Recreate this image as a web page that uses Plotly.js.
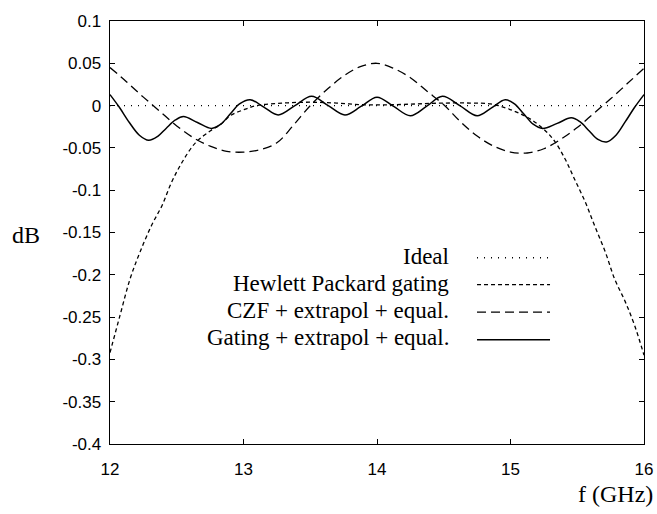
<!DOCTYPE html>
<html>
<head>
<meta charset="utf-8">
<script src="https://cdn.plot.ly/plotly-3.0.1.min.js"></script>
<style>html,body{margin:0;padding:0;background:#fff;}</style>
</head>
<body>
<div id="chart" style="width:657px;height:514px;"></div>
<script>
// ---- data ----
const seriesNames = ["Ideal", "Hewlett Packard gating", "CZF + extrapol + equal.", "Gating + extrapol + equal."];

const fIdeal = [12, 16];
const dbIdeal = [0, 0];

const fHP = [12.0, 12.075, 12.15, 12.225, 12.31, 12.39, 12.46, 12.54, 12.64, 12.75, 12.83, 12.9, 13.0, 13.1, 13.3, 13.5, 13.7, 13.9, 14.1, 14.3, 14.5, 14.7, 14.85, 14.95, 15.05, 15.15, 15.25, 15.33, 15.41, 15.48, 15.56, 15.63, 15.71, 15.78, 15.86, 15.93, 16.0];
const dbHP = [-0.292, -0.248, -0.205, -0.173, -0.142, -0.118, -0.091, -0.067, -0.044, -0.030, -0.022, -0.012, -0.005, 0.000, 0.003, 0.004, 0.003, 0.001, 0.001, 0.002, 0.003, 0.003, 0.002, -0.002, -0.008, -0.016, -0.028, -0.042, -0.0635, -0.087, -0.114, -0.142, -0.173, -0.205, -0.232, -0.260, -0.295];

const fCZF = [12.0, 12.125, 12.25, 12.375, 12.5, 12.625, 12.75, 12.875, 13.0, 13.125, 13.25, 13.375, 13.5, 13.625, 13.75, 13.875, 14.0, 14.125, 14.25, 14.375, 14.5, 14.625, 14.75, 14.875, 15.0, 15.125, 15.25, 15.375, 15.5, 15.625, 15.75, 15.875, 16.0];
const dbCZF = [0.045, 0.028, 0.010, -0.007, -0.024, -0.038, -0.048, -0.054, -0.055, -0.052, -0.044, -0.023, 0.000, 0.019, 0.035, 0.046, 0.050, 0.044, 0.033, 0.017, 0.001, -0.019, -0.036, -0.048, -0.055, -0.056, -0.051, -0.040, -0.026, -0.009, 0.008, 0.026, 0.044];

const fGate = [12.0, 12.07, 12.145, 12.22, 12.29, 12.36, 12.42, 12.49, 12.55, 12.655, 12.76, 12.83, 12.9, 12.97, 13.05, 13.155, 13.26, 13.385, 13.51, 13.635, 13.76, 13.88, 14.0, 14.125, 14.25, 14.37, 14.49, 14.62, 14.75, 14.855, 14.96, 15.03, 15.1, 15.17, 15.24, 15.35, 15.455, 15.52, 15.59, 15.655, 15.72, 15.79, 15.86, 15.93, 16.0];
const dbGate = [0.013, -0.002, -0.020, -0.035, -0.041, -0.036, -0.027, -0.017, -0.013, -0.020, -0.027, -0.022, -0.010, 0.002, 0.007, -0.002, -0.011, 0.000, 0.011, 0.000, -0.011, -0.001, 0.010, -0.001, -0.012, -0.001, 0.011, 0.000, -0.012, -0.003, 0.007, 0.002, -0.010, -0.022, -0.027, -0.021, -0.0145, -0.019, -0.030, -0.040, -0.043, -0.035, -0.019, -0.002, 0.013];

const xTicks = [12, 13, 14, 15, 16];
const xTickText = ["12", "13", "14", "15", "16"];
const yTicks = [0.1, 0.05, 0, -0.05, -0.1, -0.15, -0.2, -0.25, -0.3, -0.35, -0.4];
const yTickText = ["0.1", "0.05", "0", "-0.05", "-0.1", "-0.15", "-0.2", "-0.25", "-0.3", "-0.35", "-0.4"];

const xLabel = "f (GHz)";
const yLabel = "dB";

// ---- styles ----
const dashes = ["1px,6px", "4px,3px", "9px,5px", "solid"];
const widths = [1.4, 1.3, 1.3, 1.5];
const serif = "Liberation Serif, Times New Roman, serif";
const sans = "Liberation Sans, Arial, sans-serif";

const xs = [fIdeal, fHP, fCZF, fGate];
const ys = [dbIdeal, dbHP, dbCZF, dbGate];

const traces = xs.map((x, i) => ({
  x: x, y: ys[i], type: "scatter", mode: "lines", name: seriesNames[i],
  line: {color: "#000", width: widths[i], dash: dashes[i], shape: i === 0 ? "linear" : "spline", smoothing: 1},
  showlegend: false, hoverinfo: "skip"
}));

// Legend drawn text-left, sample-right as in the reference
const legRows = [0.4444, 0.3806, 0.3156, 0.2506];
const annotations = seriesNames.map((n, i) => ({
  text: n, xref: "paper", yref: "paper", x: 0.6386, y: legRows[i],
  xanchor: "right", yanchor: "middle", showarrow: false,
  font: {family: serif, size: 23, color: "#000"}
}));
annotations.push({text: yLabel, xref: "paper", yref: "paper", x: -0.157, y: 0.494,
  xanchor: "center", yanchor: "middle", showarrow: false, font: {family: serif, size: 24, color: "#000"}});
annotations.push({text: xLabel, xref: "paper", yref: "paper", x: 1.0206, y: -0.118,
  xanchor: "right", yanchor: "middle", showarrow: false, font: {family: serif, size: 24, color: "#000"}});

const shapes = seriesNames.map((n, i) => ({
  type: "line", xref: "paper", yref: "paper", x0: 0.6873, x1: 0.824,
  y0: legRows[i] - 0.004, y1: legRows[i] - 0.004,
  line: {color: "#000", width: widths[i], dash: dashes[i]}
}));

const layout = {
  width: 657, height: 514,
  margin: {l: 110, r: 13, t: 21, b: 70},
  paper_bgcolor: "#fff", plot_bgcolor: "#fff",
  showlegend: false,
  xaxis: {
    range: [12, 16], tickvals: xTicks, ticktext: xTickText,
    ticks: "inside", ticklen: 5, tickwidth: 1, tickcolor: "#000",
    showline: true, linecolor: "#000", linewidth: 1.4, mirror: "ticks",
    showgrid: false, zeroline: false, ticklabelstandoff: 9,
    tickfont: {family: sans, size: 17, color: "#000"}
  },
  yaxis: {
    range: [-0.4, 0.1], tickvals: yTicks, ticktext: yTickText,
    ticks: "inside", ticklen: 5, tickwidth: 1, tickcolor: "#000",
    showline: true, linecolor: "#000", linewidth: 1.4, mirror: "ticks",
    showgrid: false, zeroline: false, ticklabelstandoff: 4,
    tickfont: {family: sans, size: 17, color: "#000"}
  },
  annotations: annotations,
  shapes: shapes
};

Plotly.newPlot("chart", traces, layout, {staticPlot: true, displayModeBar: false});
</script>
</body>
</html>
